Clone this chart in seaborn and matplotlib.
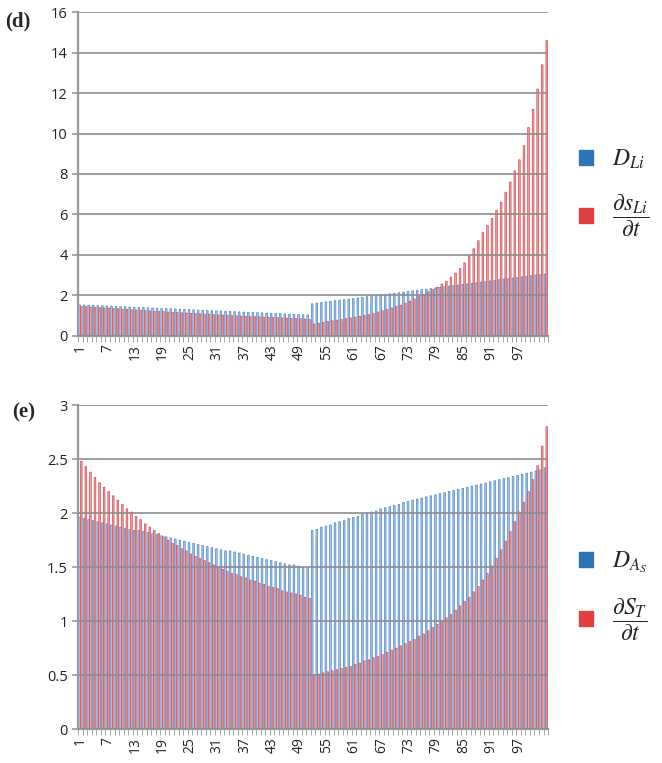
import matplotlib
matplotlib.use("Agg")
import matplotlib.pyplot as plt
from matplotlib.patches import Patch
import numpy as np
import pandas as pd
import seaborn as sns

# categories 1..103
cats = list(range(1, 104))
tick_labels = ["1", "7", "13", "19", "25", "31", "37", "43", "49", "55", "61",
               "67", "73", "79", "85", "91", "97"]

# panel (d)
d_blue = [1.53, 1.52, 1.51, 1.50, 1.49, 1.48, 1.47, 1.46, 1.45, 1.44,
          1.43, 1.42, 1.41, 1.40, 1.39, 1.38, 1.37, 1.36, 1.35, 1.34,
          1.33, 1.32, 1.31, 1.30, 1.29, 1.28, 1.27, 1.26, 1.25, 1.24,
          1.23, 1.22, 1.21, 1.20, 1.19, 1.18, 1.17, 1.16, 1.15, 1.14,
          1.13, 1.12, 1.11, 1.10, 1.09, 1.08, 1.07, 1.06, 1.05, 1.04, 1.03,
          1.58, 1.61, 1.64, 1.67, 1.70, 1.73, 1.76, 1.78, 1.81, 1.84,
          1.87, 1.90, 1.93, 1.96, 1.99, 2.02, 2.04, 2.07, 2.10, 2.13,
          2.16, 2.19, 2.22, 2.25, 2.28, 2.30, 2.33, 2.36, 2.39, 2.42,
          2.45, 2.48, 2.51, 2.54, 2.56, 2.59, 2.62, 2.65, 2.68, 2.71,
          2.74, 2.77, 2.80, 2.82, 2.85, 2.88, 2.91, 2.94, 2.97, 3.00, 3.03, 3.05]
d_red = [1.45, 1.43, 1.42, 1.40, 1.39, 1.37, 1.36, 1.34, 1.33, 1.31,
         1.30, 1.28, 1.27, 1.26, 1.24, 1.23, 1.21, 1.20, 1.19, 1.17,
         1.16, 1.15, 1.13, 1.12, 1.11, 1.09, 1.08, 1.07, 1.06, 1.04,
         1.03, 1.02, 1.01, 0.99, 0.98, 0.97, 0.96, 0.95, 0.94, 0.93,
         0.92, 0.91, 0.90, 0.89, 0.88, 0.87, 0.86, 0.85, 0.84, 0.82, 0.80,
         0.58, 0.62, 0.66, 0.70, 0.74, 0.77, 0.80, 0.84, 0.88, 0.92,
         0.96, 1.00, 1.04, 1.10, 1.17, 1.24, 1.30, 1.37, 1.44, 1.51,
         1.61, 1.71, 1.82, 1.94, 2.05, 2.17, 2.28, 2.40, 2.55, 2.70,
         2.90, 3.10, 3.32, 3.60, 3.95, 4.30, 4.70, 5.10, 5.45, 5.80,
         6.20, 6.60, 7.10, 7.60, 8.15, 8.70, 9.40, 10.30, 11.20, 12.20, 13.40, 14.60]

# panel (e)
e_blue = [1.96, 1.95, 1.94, 1.93, 1.92, 1.91, 1.90, 1.89, 1.88, 1.87,
          1.86, 1.85, 1.84, 1.84, 1.83, 1.82, 1.81, 1.80, 1.79, 1.78,
          1.77, 1.76, 1.75, 1.74, 1.73, 1.72, 1.71, 1.70, 1.69, 1.68,
          1.67, 1.66, 1.65, 1.65, 1.64, 1.63, 1.62, 1.61, 1.60, 1.59,
          1.58, 1.57, 1.56, 1.55, 1.54, 1.53, 1.52, 1.52, 1.51, 1.50, 1.49,
          1.84, 1.85, 1.87, 1.88, 1.89, 1.91, 1.92, 1.93, 1.95, 1.96,
          1.97, 1.99, 2.00, 2.01, 2.02, 2.04, 2.05, 2.06, 2.07, 2.08, 2.10,
          2.11, 2.12, 2.13, 2.14, 2.15, 2.16, 2.17, 2.18, 2.19, 2.20,
          2.21, 2.22, 2.23, 2.24, 2.25, 2.26, 2.27, 2.28, 2.29, 2.30,
          2.31, 2.32, 2.33, 2.34, 2.35, 2.36, 2.37, 2.38, 2.39, 2.40, 2.42]
e_red = [2.48, 2.43, 2.38, 2.33, 2.28, 2.24, 2.20, 2.16, 2.12, 2.08,
         2.04, 2.01, 1.97, 1.94, 1.90, 1.87, 1.84, 1.81, 1.78, 1.75,
         1.72, 1.70, 1.67, 1.65, 1.62, 1.60, 1.58, 1.56, 1.54, 1.52,
         1.50, 1.48, 1.46, 1.44, 1.43, 1.41, 1.40, 1.38, 1.37, 1.35,
         1.34, 1.32, 1.31, 1.30, 1.28, 1.27, 1.26, 1.25, 1.24, 1.22, 1.21,
         0.50, 0.51, 0.52, 0.53, 0.54, 0.55, 0.56, 0.57, 0.58, 0.60,
         0.61, 0.63, 0.64, 0.66, 0.67, 0.69, 0.71, 0.73, 0.75, 0.77,
         0.79, 0.81, 0.83, 0.86, 0.88, 0.91, 0.94, 0.97, 1.00, 1.03,
         1.06, 1.10, 1.14, 1.18, 1.22, 1.27, 1.32, 1.38, 1.44, 1.51,
         1.58, 1.66, 1.74, 1.83, 1.92, 2.01, 2.10, 2.20, 2.31, 2.44, 2.62, 2.80]

BLUE = "#a8c8ea"
BLUE_EDGE = "#4f86c6"
RED = "#f0a6a8"
RED_EDGE = "#d2484c"

sns.set_style("white")
plt.rcParams["font.family"] = ["Open Sans", "DejaVu Sans"]
plt.rcParams["mathtext.fontset"] = "stix"

fig = plt.figure(figsize=(6.62, 7.63), dpi=100)
ax_d = fig.add_axes([0.118, 0.560, 0.710, 0.424])
ax_e = fig.add_axes([0.118, 0.0445, 0.710, 0.4245])

legend_labels = {
    ax_d: [r"$D_{Li}$", r"$\dfrac{\partial s_{Li}}{\partial t}$"],
    ax_e: [r"$D_{A_S}$", r"$\dfrac{\partial S_T}{\partial t}$"],
}


def draw(ax, blue, red, ymax, ystep, labels, ylabels, legend_y):
    df = pd.DataFrame({
        "cat": cats * 2,
        "val": blue + red,
        "series": ["blue"] * len(cats) + ["red"] * len(cats),
    })
    sns.barplot(data=df, x="cat", y="val", hue="series",
                palette={"blue": BLUE, "red": RED}, width=0.8, gap=0.1,
                linewidth=0, saturation=1, ax=ax, legend=False, zorder=1)
    for cont, ec in zip(ax.containers, [BLUE_EDGE, RED_EDGE]):
        for p in cont.patches:
            p.set_snap(False)
            p.set_edgecolor(ec)
            p.set_linewidth(0.5)
    ax.set_axisbelow(False)
    ax.set_xlim(-0.5, len(cats) - 0.5)
    ax.set_ylim(0, ymax)
    yt = np.arange(0, ymax + ystep / 2, ystep)
    ax.set_yticks(yt)
    ax.set_yticklabels(ylabels)
    ax.yaxis.grid(True, color="#8c8c8c", linewidth=1.4, alpha=0.85)
    ax.xaxis.grid(False)
    ax.set_xticks([cats.index(int(t)) for t in labels])
    ax.set_xticklabels(labels, rotation=90)
    ax.set_xticks(np.arange(-0.5, len(cats), 1), minor=True)
    ax.tick_params(axis="x", which="major", length=0, pad=6, labelsize=10,
                   labelcolor="#222222")
    ax.tick_params(axis="x", which="minor", length=4, width=0.6,
                   color="#9a9a9a", direction="out", bottom=True)
    ax.tick_params(axis="y", length=4, width=1.2, color="#9a9a9a",
                   labelsize=10.5, labelcolor="#222222", left=True)
    for s in ["top", "right"]:
        ax.spines[s].set_visible(False)
    for s in ["left", "bottom"]:
        ax.spines[s].set_color("#9a9a9a")
        ax.spines[s].set_linewidth(1.6)
    ax.set_xlabel("")
    ax.set_ylabel("")
    handles = [Patch(color="#2e75b6"), Patch(color="#e04040")]
    ax.legend(handles, legend_labels[ax], loc="center left",
              bbox_to_anchor=(1.02, legend_y), frameon=False,
              handlelength=0.6, handleheight=0.6, labelspacing=0.9,
              fontsize=17, handletextpad=0.8)


draw(ax_d, d_blue, d_red, 16, 2, tick_labels,
     ["0", "2", "4", "6", "8", "10", "12", "14", "16"], 0.44)
draw(ax_e, e_blue, e_red, 3, 0.5, tick_labels,
     ["0", "0.5", "1", "1.5", "2", "2.5", "3"], 0.41)

fig.text(0.008, 0.972, "(d)", fontsize=15, fontweight="bold",
         family="Liberation Serif", va="center")
fig.text(0.018, 0.460, "(e)", fontsize=15, fontweight="bold",
         family="Liberation Serif", va="center")

fig.savefig("out.png", dpi=100)
